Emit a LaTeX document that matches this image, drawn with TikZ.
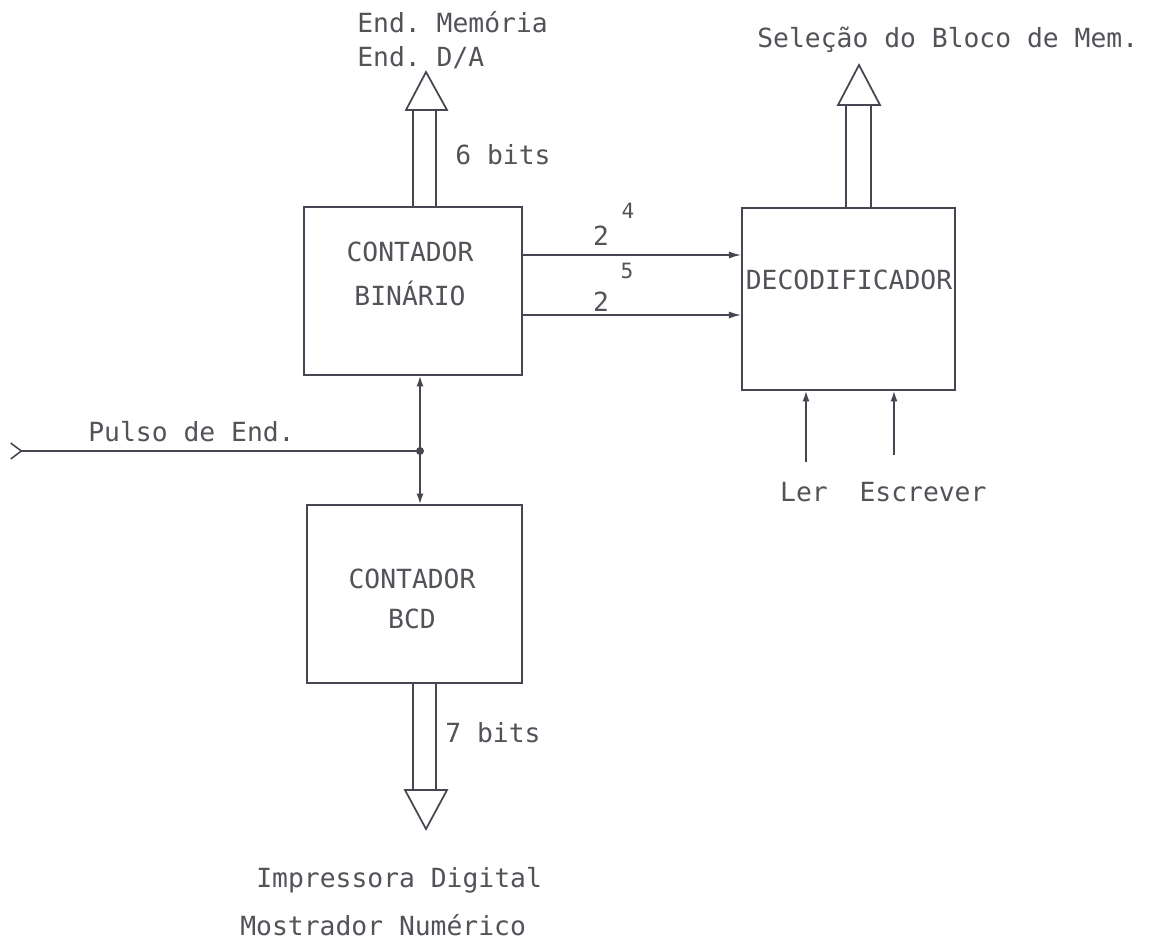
\documentclass[tikz,border=0pt]{standalone}
\usepackage{fontspec}
\setmonofont{DejaVu Sans Mono}
\usetikzlibrary{arrows.meta,calc}
\definecolor{ink}{RGB}{74,68,82}
\definecolor{typed}{RGB}{82,82,88}
\tikzset{
  blk/.style={draw=ink, line width=1pt, inner sep=0pt},
  txt/.style={text=typed, font=\ttfamily\fontsize{15}{25}\selectfont, inner sep=0pt},
  sig/.style={draw=ink, line width=0.9pt},
  bus/.style={draw=ink, line width=1pt, line join=miter}
}
\begin{document}
\begin{tikzpicture}[x=0.02cm, y=-0.02cm]
\useasboundingbox (0,0) rectangle (1151,943);
% blocos
\node[blk, minimum width=4.36cm, minimum height=3.36cm] (bin) at (413,291) {};
\node[txt, align=center] (bintxt) at (410,274) {CONTADOR\\BINÁRIO};
\node[blk, minimum width=4.26cm, minimum height=3.64cm] (dec) at (848.5,299) {};
\node[txt] (dectxt) at (849,280) {DECODIFICADOR};
\node[blk, minimum width=4.30cm, minimum height=3.56cm] (bcd) at (414.5,594) {};
\node[txt, align=center, font=\ttfamily\fontsize{15}{23}\selectfont] (bcdtxt) at (412,599) {CONTADOR\\BCD};
% barramento de endereco
\draw[bus] (413,110) -- ({413,0} |- bin.north);
\draw[bus] (436,110) -- ({436,0} |- bin.north);
\draw[bus] (406,110) -- (447,110) -- (426,72) -- cycle;
\node[txt, anchor=west] (endmem) at (357,22) {End. Memória};
\node[txt, anchor=west] (endda) at (357,58) {End. D/A};
\node[txt, anchor=west] (seis) at (455,155) {6 bits};
% selecao do bloco
\draw[bus] (846,105) -- ({846,0} |- dec.north);
\draw[bus] (871,105) -- ({871,0} |- dec.north);
\draw[bus] (838,105) -- (880,105) -- (859,65) -- cycle;
\node[txt, anchor=west] (selecao) at (757,40) {Seleção do Bloco de Mem.};
% bits 2^4 e 2^5
\coordinate (q4) at (bin.east |- {0,255});
\coordinate (q5) at (bin.east |- {0,315});
\draw[sig, -{Latex[length=7pt,width=4pt]}] (q4) -- (dec.west |- q4);
\draw[sig, -{Latex[length=7pt,width=4pt]}] (q5) -- (dec.west |- q5);
\node[txt] (dois4) at (601,236) {2};
\node[txt, font=\ttfamily\fontsize{12}{14}\selectfont] (exp4) at (628,211) {4};
\node[txt] (dois5) at (601,302) {2};
\node[txt, font=\ttfamily\fontsize{12}{14}\selectfont] (exp5) at (627,271) {5};
% pulso de endereco
\coordinate (jun) at (420,451);
\coordinate (pin) at (10,451);
\draw[sig, {Latex[length=6pt,width=4pt]}-{Latex[length=6pt,width=4pt]}] (jun |- bin.south) -- (jun |- bcd.north);
\fill[ink] (jun) circle (4);
\draw[sig, {Straight Barb[reversed,length=6pt,width=9pt]}-] (pin) -- (jun);
\node[txt, anchor=west] (pulso) at (88,432) {Pulso de End.};
% ler e escrever
\coordinate (ler) at (806,462);
\coordinate (esc) at (894,455);
\draw[sig, -{Latex[length=6pt,width=4pt]}] (ler) -- (ler |- dec.south);
\draw[sig, -{Latex[length=6pt,width=4pt]}] (esc) -- (esc |- dec.south);
\node[txt] (lertxt) at (804,492) {Ler};
\node[txt] (esctxt) at (923,492) {Escrever};
% saida BCD
\draw[bus] ({413,0} |- bcd.south) -- (413,790);
\draw[bus] ({436,0} |- bcd.south) -- (436,790);
\draw[bus] (405,790) -- (447,790) -- (426,829) -- cycle;
\node[txt, anchor=west] (sete) at (445,733) {7 bits};
\node[txt, anchor=west] (impr) at (256,880) {Impressora Digital};
\node[txt, anchor=west] (mostr) at (240,925) {Mostrador Numérico};
\end{tikzpicture}
\end{document}
